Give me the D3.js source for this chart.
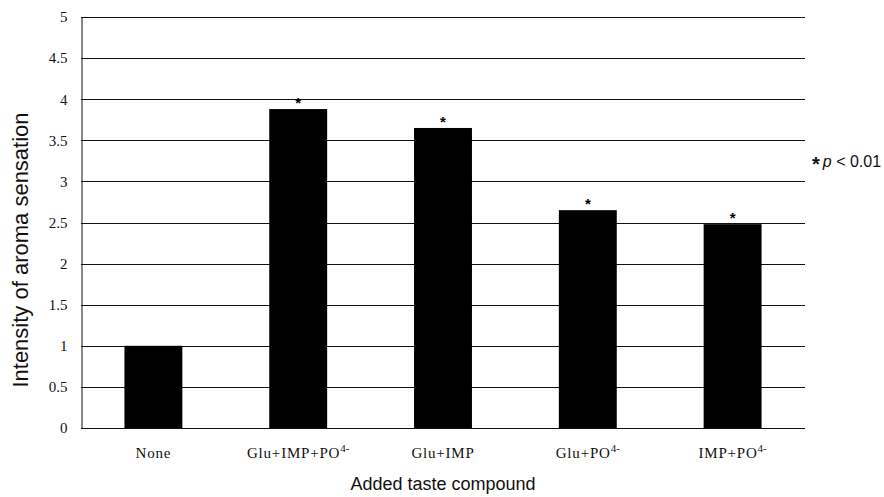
<!DOCTYPE html>
<html>
<head>
<meta charset="utf-8">
<script src="https://cdn.jsdelivr.net/npm/d3@7"></script>
<style>
  body { margin: 0; background: #fff; }
  svg { display: block; }
  .serif text, text.serif { font-family: "Liberation Serif", "Times New Roman", serif; }
</style>
</head>
<body>
<svg id="svg" width="884" height="497"></svg>
<script>
// data
var categories = ["None", "Glu+IMP+PO4-", "Glu+IMP", "Glu+PO4-", "IMP+PO4-"];
var catBase = ["None", "Glu+IMP+PO", "Glu+IMP", "Glu+PO", "IMP+PO"];
var catSup = ["", "4-", "", "4-", "4-"];
var values = [1.0, 3.88, 3.65, 2.65, 2.48];
var significant = [false, true, true, true, true];
var yTicks = [0, 0.5, 1, 1.5, 2, 2.5, 3, 3.5, 4, 4.5, 5];

var svg = d3.select("#svg");

// plot box (window.top is read-only, so plotTop)
var plotLeft = 81, plotRight = 805, plotTop = 17, plotBottom = 428;

var xScale = d3.scaleBand()
    .domain(categories)
    .range([plotLeft, plotRight])
    .paddingInner(0.6)
    .paddingOuter(0.3);

var yScale = d3.scaleLinear()
    .domain([0, 5])
    .range([plotBottom, plotTop]);

// gridlines
svg.append("g")
    .selectAll("line")
    .data(yTicks)
    .enter()
    .append("line")
    .attr("x1", plotLeft)
    .attr("x2", plotRight)
    .attr("y1", function(d){ return Math.round(yScale(d)) + 0.5; })
    .attr("y2", function(d){ return Math.round(yScale(d)) + 0.5; })
    .attr("stroke", "#111")
    .attr("stroke-width", 1);

// y axis
var yAxis = svg.append("g")
    .attr("class", "serif")
    .attr("transform", "translate(" + (plotLeft + 0.5) + ",0)")
    .call(d3.axisLeft(yScale).tickValues(yTicks).tickSize(0).tickPadding(14)
        .tickFormat(function(d){ return String(d); }));
yAxis.attr("font-family", null);
yAxis.select(".domain").attr("stroke", "#111");
yAxis.selectAll("text")
    .style("font-size", "15px")
    .attr("fill", "#111");

// bars
svg.selectAll("rect.bar")
    .data(values)
    .enter()
    .append("rect")
    .attr("class", "bar")
    .attr("x", function(d, i){ return xScale(categories[i]); })
    .attr("width", xScale.bandwidth())
    .attr("y", function(d){ return yScale(d); })
    .attr("height", function(d){ return yScale(0) - yScale(d); })
    .attr("fill", "#000");

// asterisks
svg.selectAll("text.star")
    .data(values)
    .enter()
    .filter(function(d, i){ return significant[i]; })
    .append("text")
    .attr("class", "star")
    .attr("x", function(d){ var i = values.indexOf(d); return xScale(categories[i]) + xScale.bandwidth() / 2; })
    .attr("y", function(d){ return yScale(d) - 1; })
    .attr("text-anchor", "middle")
    .attr("font-family", "'Liberation Sans', Arial, sans-serif")
    .attr("font-weight", "bold")
    .attr("font-size", "15px")
    .text("*");

// category labels with superscripts
var labels = svg.selectAll("text.cat")
    .data(categories)
    .enter()
    .append("text")
    .attr("class", "cat serif")
    .attr("x", function(d){ return xScale(d) + xScale.bandwidth() / 2; })
    .attr("y", 458)
    .attr("text-anchor", "middle")
    .attr("font-size", "15px")
    .attr("fill", "#111");
labels.append("tspan")
    .attr("letter-spacing", "0.8px")
    .text(function(d, i){ return catBase[i]; });
labels.append("tspan")
    .attr("dy", -6)
    .attr("font-size", "11px")
    .text(function(d, i){ return catSup[i]; });

// axis titles
svg.append("text")
    .attr("x", (plotLeft + plotRight) / 2)
    .attr("y", 490)
    .attr("text-anchor", "middle")
    .attr("font-family", "'Liberation Sans', Arial, sans-serif")
    .attr("font-size", "18px")
    .attr("fill", "#111")
    .text("Added taste compound");

svg.append("text")
    .attr("transform", "translate(28,250) rotate(-90)")
    .attr("text-anchor", "middle")
    .attr("font-family", "'Liberation Sans', Arial, sans-serif")
    .attr("font-size", "22px")
    .attr("fill", "#111")
    .text("Intensity of aroma sensation");

// significance note
var note = svg.append("text")
    .attr("x", 812)
    .attr("y", 167)
    .attr("font-family", "'Liberation Sans', Arial, sans-serif")
    .attr("font-size", "16px")
    .attr("fill", "#111");
note.append("tspan").attr("font-weight", "bold").attr("font-size", "20px").attr("dy", 4).text("*");
note.append("tspan").attr("dy", -4).attr("dx", 3).attr("font-style", "italic").text("p");
note.append("tspan").text(" < 0.01");
</script>
</body>
</html>
